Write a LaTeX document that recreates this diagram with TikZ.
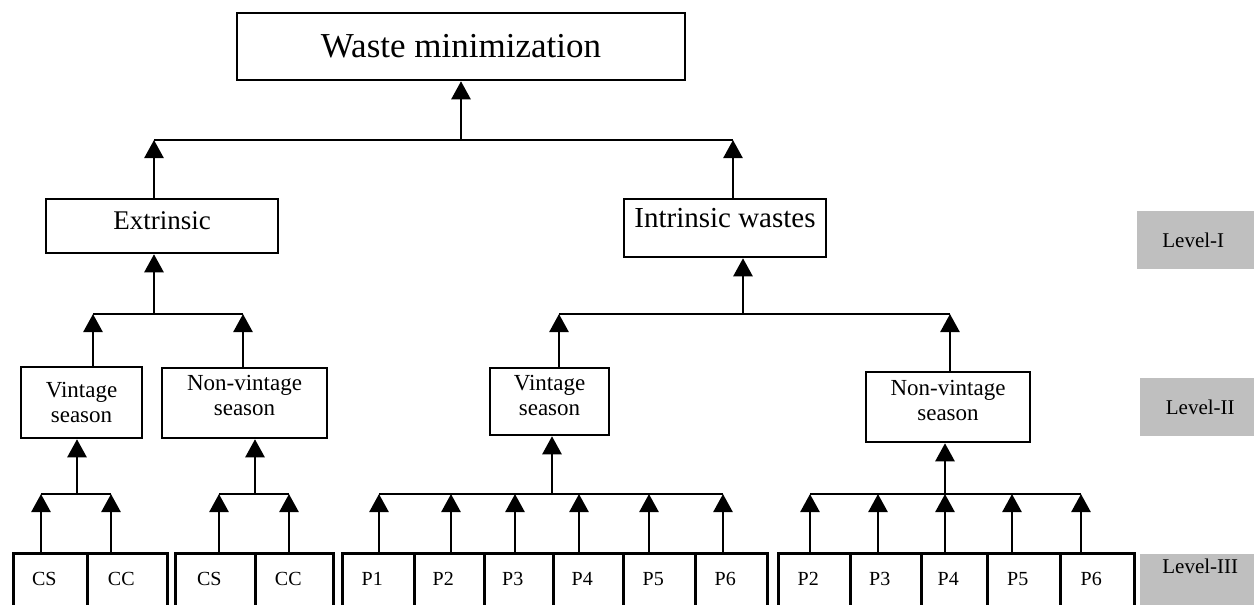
\documentclass[tikz,border=0pt]{standalone}
\usepackage{fontspec}
\setmainfont{Liberation Serif}
\usetikzlibrary{arrows.meta}
\definecolor{lgray}{HTML}{BFBFBF}
\begin{document}
\begin{tikzpicture}[x=1pt,y=-1pt,line width=2.5pt,
  box/.style={draw,rectangle,inner sep=0pt},
  arr/.style={-{Triangle[width=19pt,length=18pt]}},
  cell/.style={box,anchor=north west,minimum height=70pt,text depth=18pt,font=\fontsize{20}{23}\selectfont},
  lvl/.style={fill=lgray,inner sep=0pt,anchor=north west,font=\fontsize{21}{24}\selectfont},
  small/.style={box,align=center,font=\fontsize{23}{25}\selectfont}]
\clip (0,0) rectangle (1254,605);
\fill[white] (0,0) rectangle (1254,605);

% level 0 and I
\node[box,minimum width=448pt,minimum height=67pt,font=\fontsize{35}{40}\selectfont] (top) at (461,46.5) {Waste minimization};
\node[box,minimum width=232pt,minimum height=54pt,font=\fontsize{27}{32}\selectfont,text depth=10pt] (ext) at (162,226) {Extrinsic};
\node[box,minimum width=202pt,minimum height=58pt,font=\fontsize{29}{34}\selectfont,text depth=20pt] (int) at (725,228) {Intrinsic wastes};

% level II
\node[small,minimum width=121pt,minimum height=71pt] (ev) at (81.5,402.5) {Vintage\\season};
\node[small,minimum width=165pt,minimum height=70pt,text depth=16pt] (en) at (244.5,403) {Non-vintage\\season};
\node[small,minimum width=119pt,minimum height=67pt,text depth=12pt] (iv) at (549.5,401.5) {Vintage\\season};
\node[small,minimum width=164pt,minimum height=70pt,text depth=13pt] (in) at (948,407) {Non-vintage\\season};

% level labels
\node[lvl,minimum width=125pt,minimum height=58pt] (l1) at (1136,210) {Level-I\hspace*{13pt}};
\node[lvl,minimum width=120pt,minimum height=58pt] (l2) at (1139,377) {Level-II};
\node[lvl,minimum width=120pt,minimum height=70pt,text depth=46pt] (l3) at (1139,553) {Level-III};

% top bar
\coordinate (b1a) at (154,140);
\coordinate (b1b) at (733,140);
\coordinate (b1s) at (461,140);
\draw (b1a) -- (b1b);
\draw[arr] (b1s) -- (top.south);
\draw[arr] (ext.north -| b1a) -- (b1a);
\draw[arr] (int.north -| b1b) -- (b1b);

% extrinsic bar
\coordinate (b2a) at (93,314);
\coordinate (b2b) at (243,314);
\coordinate (b2s) at (154,314);
\draw (b2a) -- (b2b);
\draw[arr] (b2s) -- (ext.south -| b2s);
\draw[arr] (ev.north -| b2a) -- (b2a);
\draw[arr] (en.north -| b2b) -- (b2b);

% intrinsic bar
\coordinate (b3a) at (559,314);
\coordinate (b3b) at (950,314);
\coordinate (b3s) at (743,314);
\draw (b3a) -- (b3b);
\draw[arr] (b3s) -- (int.south -| b3s);
\draw[arr] (iv.north -| b3a) -- (b3a);
\draw[arr] (in.north -| b3b) -- (b3b);

% level III groups
\foreach \lab/\x/\w/\a [count=\i] in {CS/12/74/41, CC/86/80/111}{
  \node[cell,minimum width=\w pt] (g1c\i) at (\x,552) {\lab\hspace*{12pt}};
  \coordinate (g1a\i) at (\a,494);
  \draw[arr] (g1c\i.north -| g1a\i) -- (g1a\i);
}
\foreach \lab/\x/\w/\a [count=\i] in {CS/174/80/219, CC/254/78/289}{
  \node[cell,minimum width=\w pt] (g2c\i) at (\x,552) {\lab\hspace*{12pt}};
  \coordinate (g2a\i) at (\a,494);
  \draw[arr] (g2c\i.north -| g2a\i) -- (g2a\i);
}
\foreach \lab/\x/\w/\a [count=\i] in {P1/341/72/379, P2/413/70/451, P3/483/69/515, P4/552/70/579, P5/622/72/649, P6/694/72/723}{
  \node[cell,minimum width=\w pt] (g3c\i) at (\x,552) {\lab\hspace*{12pt}};
  \coordinate (g3a\i) at (\a,494);
  \draw[arr] (g3c\i.north -| g3a\i) -- (g3a\i);
}
\foreach \lab/\x/\w/\a [count=\i] in {P2/777/72/810, P3/849/71/878, P4/920/66/945, P5/986/73/1012, P6/1059/74/1081}{
  \node[cell,minimum width=\w pt] (g4c\i) at (\x,552) {\lab\hspace*{12pt}};
  \coordinate (g4a\i) at (\a,494);
  \draw[arr] (g4c\i.north -| g4a\i) -- (g4a\i);
}

\coordinate (g1s) at (77,494);
\coordinate (g2s) at (255,494);
\coordinate (g3s) at (552,494);
\coordinate (g4s) at (945,494);
\draw (g1a1) -- (g1a2);
\draw (g2a1) -- (g2a2);
\draw (g3a1) -- (g3a6);
\draw (g4a1) -- (g4a5);
\draw[arr] (g1s) -- (ev.south -| g1s);
\draw[arr] (g2s) -- (en.south -| g2s);
\draw[arr] (g3s) -- (iv.south -| g3s);
\draw[arr] (g4s) -- (in.south -| g4s);
\end{tikzpicture}
\end{document}
